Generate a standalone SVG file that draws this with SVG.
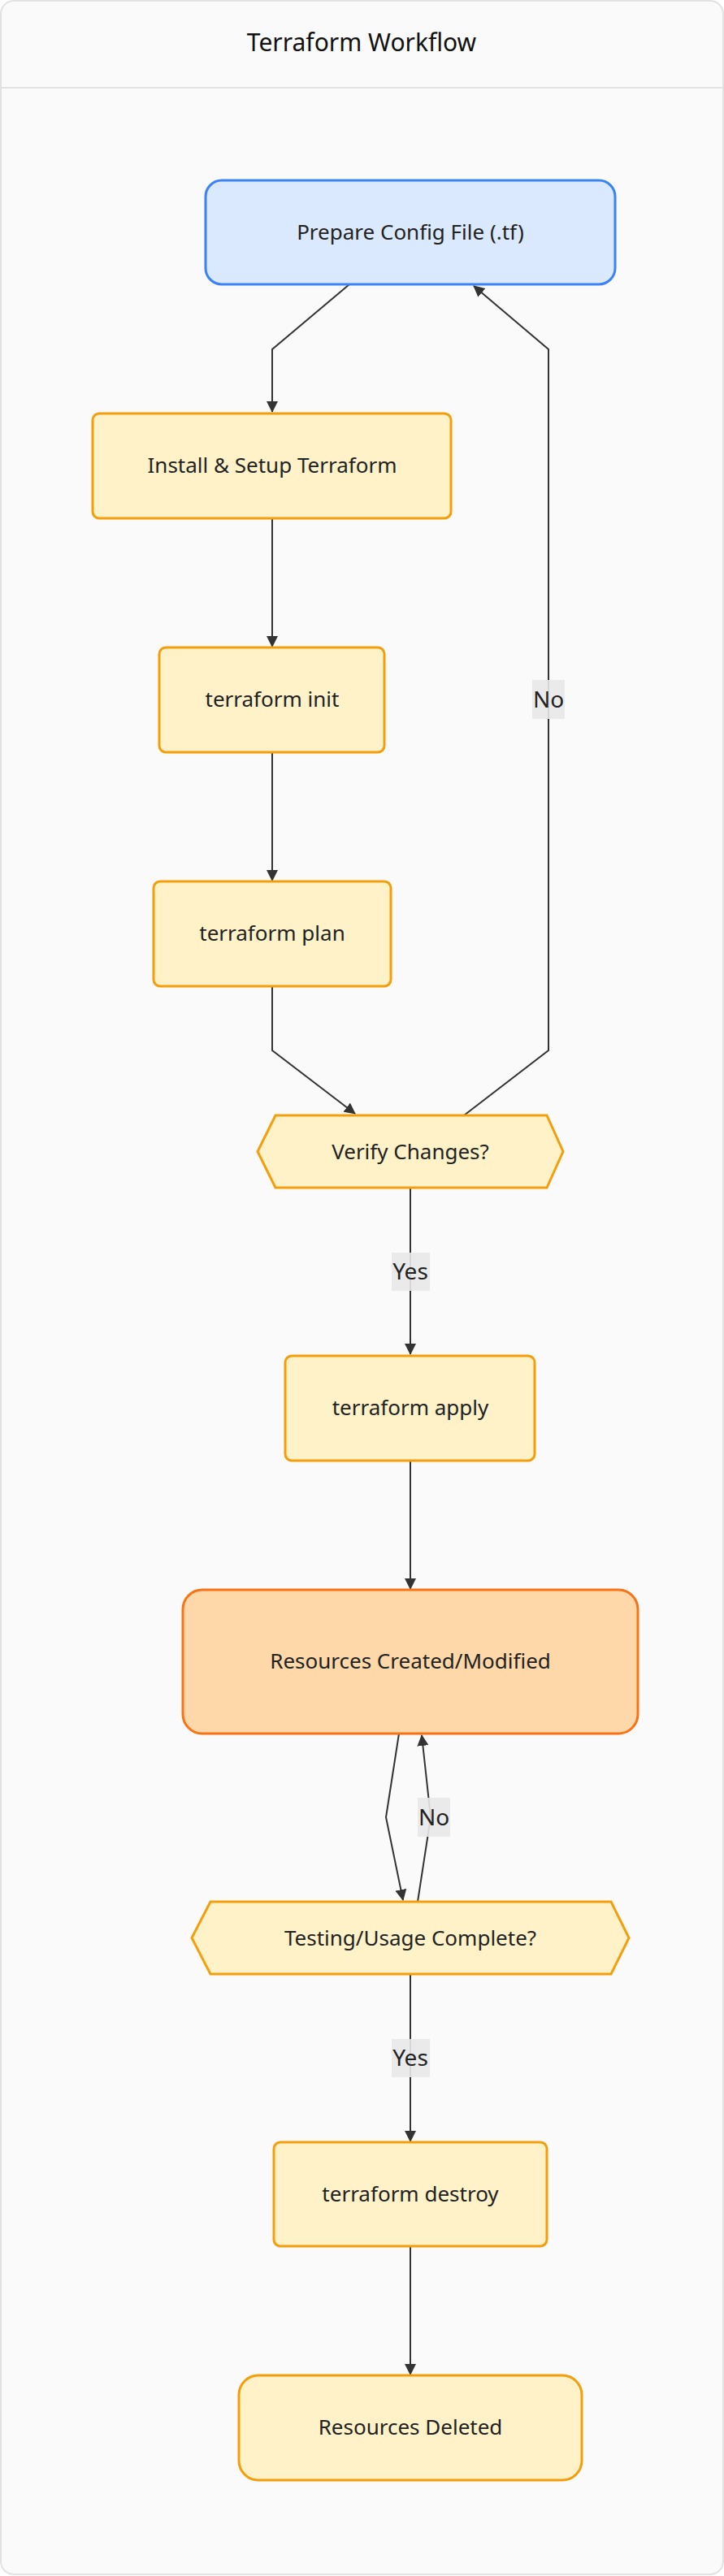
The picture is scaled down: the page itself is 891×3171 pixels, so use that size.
<svg xmlns="http://www.w3.org/2000/svg" width="891" height="3171" viewBox="0 0 891 3171">
<defs>
<marker id="arr" viewBox="0 0 14 14" refX="13" refY="7" markerWidth="14" markerHeight="14" markerUnits="userSpaceOnUse" orient="auto">
<path d="M0,0 L14,7 L0,14 Z" fill="#333"/>
</marker>
<style>
.t{font-family:"Noto Sans","Open Sans","DejaVu Sans",sans-serif;font-size:26px;fill:#222;text-anchor:middle}
.lt{font-family:"Noto Sans","Open Sans","DejaVu Sans",sans-serif;font-size:28px;fill:#222;text-anchor:middle}
.title{font-family:"Noto Sans","Open Sans","DejaVu Sans",sans-serif;font-size:30px;fill:#111;text-anchor:middle}
.y{fill:#fff2c8;stroke:#f59e0b;stroke-width:3}
.b{fill:#dbe9fe;stroke:#3b82f6;stroke-width:3}
.o{fill:#fed8a8;stroke:#f97316;stroke-width:3}
.e{fill:none;stroke:#333;stroke-width:2}
.lb{fill:#e8e8e8;opacity:0.9}
</style>
</defs>
<rect x="1" y="1" width="889" height="3168" rx="16" fill="#fafafa" stroke="#e2e2e2" stroke-width="2"/>
<line x1="2" y1="108" x2="889" y2="108" stroke="#e2e2e2" stroke-width="2"/>
<text class="title" x="445" y="63">Terraform Workflow</text>

<g id="connectors">
<path class="e" d="M430,350 L335,430 L335,507" marker-end="url(#arr)"/>
<path class="e" d="M335,638 L335,796" marker-end="url(#arr)"/>
<path class="e" d="M335,926 L335,1084" marker-end="url(#arr)"/>
<path class="e" d="M335,1214 L335,1293 L437,1371" marker-end="url(#arr)"/>
<path class="e" d="M571,1373 L675,1293 L675,430 L583,352" marker-end="url(#arr)"/>
<path class="e" d="M505,1462 L505,1667" marker-end="url(#arr)"/>
<path class="e" d="M505,1798 L505,1956" marker-end="url(#arr)"/>
<path class="e" d="M491,2134 L475,2237 L496,2339" marker-end="url(#arr)"/>
<path class="e" d="M514,2341 L530,2237 L519,2136" marker-end="url(#arr)"/>
<path class="e" d="M505,2430 L505,2636" marker-end="url(#arr)"/>
<path class="e" d="M505,2765 L505,2923" marker-end="url(#arr)"/>
<rect class="lb" x="655" y="837" width="40" height="48"/>
<text class="lt" x="675" y="871">No</text>
<rect class="lb" x="482" y="1542" width="47" height="47"/>
<text class="lt" x="505" y="1575">Yes</text>
<rect class="lb" x="514" y="2213" width="40" height="48"/>
<text class="lt" x="534" y="2247">No</text>
<rect class="lb" x="482" y="2510" width="47" height="47"/>
<text class="lt" x="505" y="2543">Yes</text>
</g>

<g id="prepare">
<rect class="b" x="253" y="222" width="504" height="128" rx="20"/>
<text class="t" x="505" y="295">Prepare Config File (.tf)</text>
</g>
<g id="install">
<rect class="y" x="114" y="509" width="441" height="129" rx="8"/>
<text class="t" x="335" y="582">Install &amp; Setup Terraform</text>
</g>
<g id="init">
<rect class="y" x="196" y="797" width="277" height="129" rx="8"/>
<text class="t" x="335" y="870">terraform init</text>
</g>
<g id="plan">
<rect class="y" x="189" y="1085" width="292" height="129" rx="8"/>
<text class="t" x="335" y="1158">terraform plan</text>
</g>
<g id="verify">
<polygon class="y" points="339,1373 673,1373 693,1417.5 673,1462 339,1462 317,1417.5"/>
<text class="t" x="505" y="1427">Verify Changes?</text>
</g>
<g id="apply">
<rect class="y" x="351" y="1669" width="307" height="129" rx="8"/>
<text class="t" x="505" y="1742">terraform apply</text>
</g>
<g id="resources">
<rect class="o" x="225" y="1957" width="560" height="177" rx="24"/>
<text class="t" x="505" y="2054">Resources Created/Modified</text>
</g>
<g id="testing">
<polygon class="y" points="259,2341 752,2341 774,2385.5 752,2430 259,2430 236,2385.5"/>
<text class="t" x="505" y="2395">Testing/Usage Complete?</text>
</g>
<g id="destroy">
<rect class="y" x="337" y="2637" width="336" height="128" rx="8"/>
<text class="t" x="505" y="2710">terraform destroy</text>
</g>
<g id="deleted">
<rect class="y" x="294" y="2924" width="422" height="129" rx="24"/>
<text class="t" x="505" y="2997">Resources Deleted</text>
</g>
</svg>
